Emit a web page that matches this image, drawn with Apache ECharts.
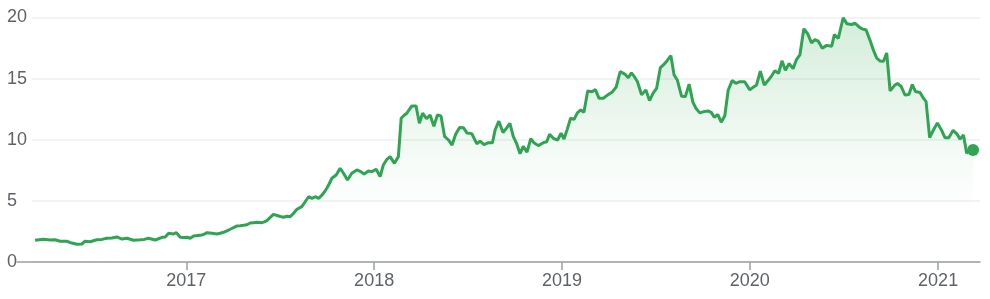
<!DOCTYPE html>
<html>
<head>
<meta charset="utf-8">
<script src="https://cdn.jsdelivr.net/npm/echarts@6/dist/echarts.min.js"></script>
<style>
html,body{margin:0;padding:0;background:#fff;}
#chart{width:990px;height:299px;}
</style>
</head>
<body>
<div id="chart"></div>
<script>
// Dates as decimal years
var years = [
2016.197,2016.241,2016.277,2016.303,2016.330,2016.365,2016.392,2016.419,2016.445,2016.463,
2016.489,2016.525,2016.552,2016.578,2016.605,2016.631,2016.658,2016.685,2016.720,2016.755,
2016.777,2016.799,2016.835,2016.871,2016.888,2016.906,2016.932,2016.947,2016.968,2016.984,
2017.004,2017.021,2017.039,2017.074,2017.092,2017.110,2017.137,2017.163,2017.181,2017.198,
2017.216,2017.234,2017.252,2017.270,2017.287,2017.305,2017.323,2017.340,2017.358,2017.376,
2017.403,2017.415,2017.429,2017.447,2017.464,2017.484,2017.500,2017.518,2017.536,2017.553,
2017.569,2017.589,2017.615,2017.633,2017.651,2017.669,2017.686,2017.704,2017.718,2017.730,
2017.748,2017.761,2017.775,2017.798,2017.819,2017.837,2017.858,2017.881,2017.908,2017.929,
2017.947,2017.970,2017.988,2018.011,2018.032,2018.049,2018.068,2018.085,2018.108,2018.129,
2018.144,2018.160,2018.174,2018.186,2018.201,2018.223,2018.241,2018.258,2018.279,2018.298,
2018.318,2018.337,2018.356,2018.375,2018.396,2018.415,2018.434,2018.455,2018.475,2018.495,
2018.520,2018.546,2018.564,2018.585,2018.608,2018.630,2018.644,2018.664,2018.686,2018.705,
2018.723,2018.741,2018.759,2018.777,2018.794,2018.814,2018.834,2018.851,2018.874,2018.901,
2018.919,2018.934,2018.954,2018.977,2018.995,2019.011,2019.028,2019.046,2019.064,2019.082,
2019.100,2019.117,2019.137,2019.160,2019.178,2019.197,2019.220,2019.244,2019.266,2019.289,
2019.310,2019.335,2019.353,2019.370,2019.383,2019.402,2019.424,2019.447,2019.466,2019.487,
2019.504,2019.524,2019.540,2019.560,2019.580,2019.597,2019.614,2019.637,2019.657,2019.677,
2019.697,2019.713,2019.734,2019.755,2019.778,2019.796,2019.811,2019.830,2019.848,2019.867,
2019.885,2019.906,2019.926,2019.947,2019.973,2020.000,2020.018,2020.036,2020.056,2020.077,
2020.097,2020.117,2020.133,2020.153,2020.171,2020.189,2020.209,2020.230,2020.248,2020.266,
2020.287,2020.307,2020.328,2020.346,2020.363,2020.385,2020.408,2020.435,2020.449,2020.470,
2020.496,2020.516,2020.541,2020.559,2020.583,2020.601,2020.617,2020.638,2020.656,2020.674,
2020.691,2020.710,2020.727,2020.745,2020.769,2020.784,2020.803,2020.824,2020.845,2020.863,
2020.880,2020.904,2020.922,2020.936,2020.955,2020.975,2020.996,2021.020,2021.037,2021.057,
2021.080,2021.101,2021.117,2021.135,2021.152,2021.170,2021.186
];
var prices = [
1.78,1.86,1.80,1.82,1.70,1.70,1.55,1.45,1.47,1.70,
1.66,1.82,1.85,1.94,1.97,2.05,1.88,1.94,1.78,1.82,
1.85,1.94,1.80,2.02,2.05,2.35,2.29,2.40,2.02,2.00,
2.02,1.94,2.13,2.18,2.25,2.40,2.35,2.29,2.35,2.43,
2.55,2.68,2.82,2.95,2.97,3.00,3.05,3.19,3.22,3.25,
3.22,3.28,3.38,3.65,3.90,3.80,3.72,3.66,3.75,3.71,
3.95,4.31,4.53,4.93,5.34,5.21,5.34,5.21,5.40,5.62,
6.03,6.40,6.85,7.12,7.67,7.26,6.71,7.26,7.53,7.39,
7.20,7.45,7.39,7.59,6.98,7.94,8.40,8.62,8.07,8.62,
11.76,12.00,12.17,12.45,12.77,12.77,11.35,12.17,11.72,12.03,
11.10,12.03,11.95,10.28,9.98,9.57,10.45,11.00,10.99,10.55,
10.50,9.68,9.88,9.60,9.76,9.76,10.80,11.52,10.60,10.95,
11.35,10.25,9.68,8.86,9.46,8.98,10.08,9.76,9.52,9.76,
9.84,10.45,10.12,9.98,10.53,10.06,10.85,11.76,11.66,12.20,
12.44,12.25,13.98,13.92,14.10,13.40,13.40,13.67,13.88,14.32,
15.57,15.37,15.07,15.47,15.22,14.75,13.67,14.08,13.20,13.85,
14.21,15.90,16.12,16.47,16.88,15.30,14.89,13.55,13.53,14.55,
13.08,12.58,12.20,12.30,12.36,12.22,11.84,12.06,11.44,11.96,
14.05,14.84,14.62,14.75,14.75,14.08,14.30,14.48,15.62,14.48,
14.84,15.25,15.64,15.44,16.46,15.68,16.23,15.82,16.56,16.94,
19.08,18.68,17.92,18.20,18.07,17.49,17.72,17.65,18.60,18.30,
19.98,19.48,19.43,19.53,19.19,19.04,19.00,18.15,17.35,16.67,
16.45,16.42,17.10,14.00,14.45,14.60,14.38,13.67,13.70,14.52,
13.94,13.86,13.40,13.12,10.18,10.80,11.38,10.73,10.16,10.17,
10.77,10.46,10.05,10.39,8.89,9.20,9.17
];
var yTicks = [0, 5, 10, 15, 20];
var axisStartYear = 2016.101;
var axisEndYear = 2021.223;

function yearToTime(y) {
  var f = Math.floor(y);
  var a = new Date(f, 0, 1).getTime();
  var b = new Date(f + 1, 0, 1).getTime();
  return a + (y - f) * (b - a);
}

var seriesData = years.map(function (y, i) { return [yearToTime(y), prices[i]]; });
var last = seriesData[seriesData.length - 1];

var green = '#2fa452';
var labelColor = '#5f6368';
var font = '"Liberation Sans", Arial, sans-serif';
var YEAR = 365 * 24 * 3600 * 1000;

var chart = echarts.init(document.getElementById('chart'), null, {renderer: 'canvas'});
chart.setOption({
  animation: false,
  backgroundColor: '#ffffff',
  grid: [
    {left: 17, right: 10, top: 17.5, bottom: 37},
    {left: 32, right: 10, top: 17.5, bottom: 37}
  ],
  xAxis: [
    {
      type: 'time', gridIndex: 0,
      min: yearToTime(axisStartYear), max: yearToTime(axisEndYear),
      minInterval: YEAR, maxInterval: YEAR + 24 * 3600 * 1000,
      splitNumber: 5,
      axisLine: {show: true, lineStyle: {color: '#9aa0a6', width: 1.5}},
      axisTick: {show: true, length: 8, lineStyle: {color: '#9aa0a6', width: 1.5}},
      axisLabel: {
        color: labelColor, fontSize: 18, fontFamily: font, margin: 10,
        showMinLabel: false, showMaxLabel: false,
        formatter: function (v) { return String(new Date(v).getFullYear()); }
      },
      splitLine: {show: false}
    },
    {type: 'value', gridIndex: 1, min: 0, max: 1, show: false}
  ],
  yAxis: [
    {type: 'value', gridIndex: 0, min: 0, max: 20, show: false, splitLine: {show: false}},
    {
      type: 'value', gridIndex: 1, min: yTicks[0], max: yTicks[yTicks.length - 1], interval: 5,
      axisLine: {show: false}, axisTick: {show: false},
      axisLabel: {color: labelColor, fontSize: 18, fontFamily: font, align: 'left', margin: 25},
      splitLine: {show: true, lineStyle: {color: '#efefef', width: 1.5}}
    }
  ],
  series: [
    {
      type: 'line', xAxisIndex: 0, yAxisIndex: 0,
      data: seriesData, symbol: 'none', smooth: false,
      lineStyle: {color: green, width: 3},
      areaStyle: {
        color: new echarts.graphic.LinearGradient(0, 0, 0, 1, [
          {offset: 0, color: 'rgba(52,168,83,0.30)'},
          {offset: 0.55, color: 'rgba(52,168,83,0.08)'},
          {offset: 0.8, color: 'rgba(52,168,83,0.0)'},
          {offset: 1, color: 'rgba(255,255,255,0)'}
        ])
      },
      z: 3
    },
    {
      type: 'scatter', xAxisIndex: 0, yAxisIndex: 0,
      data: [last], symbol: 'circle', symbolSize: 12,
      itemStyle: {color: green, opacity: 1}, z: 4
    }
  ]
});
</script>
</body>
</html>
